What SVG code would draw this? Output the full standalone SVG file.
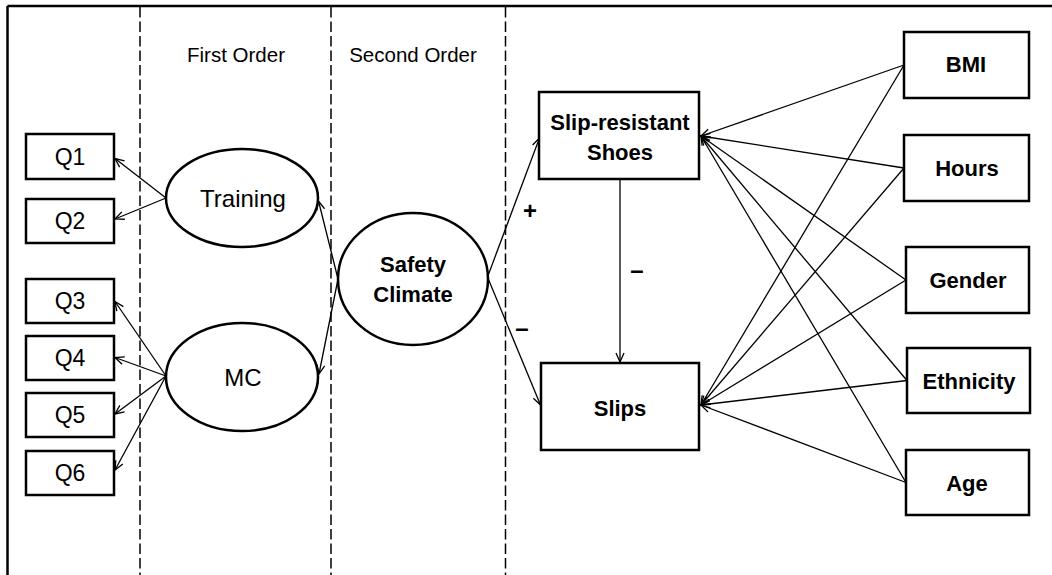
<svg xmlns="http://www.w3.org/2000/svg" width="1052" height="575" viewBox="0 0 1052 575">
<style>
  text { font-family: "Liberation Sans", Arial, sans-serif; fill: #000; text-anchor: middle; }
  .q { font-size: 23px; }
  .lat { font-size: 24px; }
  .hdr { font-size: 20.5px; }
  .b { font-size: 22px; font-weight: bold; }
  .sign { font-size: 24px; font-weight: bold; }
  .box { fill: #fff; stroke: #000; stroke-width: 2.5; }
  .ell { fill: #fff; stroke: #000; stroke-width: 2.5; }
  .frame { stroke: #000; stroke-width: 2.5; fill: none; }
  .dash { stroke: #000; stroke-width: 1.5; stroke-dasharray: 10.5 4; fill: none; }
  .conn line { stroke: #000; stroke-width: 1.3; fill: none; marker-end: url(#arr); }
</style>
<defs>
  <marker id="arr" viewBox="-11 -6 13 12" refX="0" refY="0" markerWidth="13" markerHeight="12" markerUnits="userSpaceOnUse" orient="auto">
    <path d="M-9,-4 L0,0 L-9,4" fill="none" stroke="#000" stroke-width="1.3"/>
  </marker>
</defs>
<rect x="0" y="0" width="1052" height="575" fill="#fff"/>
<g id="frame">
  <line class="frame" x1="7.5" y1="6" x2="1052" y2="6"/>
  <line class="frame" x1="7.5" y1="6" x2="7.5" y2="575"/>
  <line class="dash" x1="140" y1="7" x2="140" y2="575"/>
  <line class="dash" x1="331" y1="7" x2="331" y2="575"/>
  <line class="dash" x1="505.5" y1="7" x2="505.5" y2="575"/>
  <text class="hdr" x="236" y="62">First Order</text>
  <text class="hdr" x="413" y="62">Second Order</text>
</g>
<g class="conn" id="connectors">
  <line x1="166" y1="198" x2="115" y2="158.5"/>
  <line x1="166" y1="198" x2="115" y2="219"/>
  <line x1="166" y1="376" x2="115" y2="301.5"/>
  <line x1="166" y1="376" x2="115" y2="357.5"/>
  <line x1="166" y1="376" x2="115" y2="414"/>
  <line x1="166" y1="376" x2="115" y2="470"/>
  <line x1="338" y1="279" x2="318.5" y2="201"/>
  <line x1="338" y1="279" x2="319" y2="374"/>
  <line x1="487.5" y1="277" x2="539.5" y2="138"/>
  <line x1="487.5" y1="277" x2="540.5" y2="405"/>
  <line x1="620" y1="180" x2="620" y2="362"/>
  <line x1="904" y1="65" x2="701" y2="136"/>
  <line x1="904" y1="65" x2="701" y2="405"/>
  <line x1="904" y1="168" x2="701" y2="136"/>
  <line x1="904" y1="168" x2="701" y2="405"/>
  <line x1="906" y1="280" x2="701" y2="136"/>
  <line x1="906" y1="280" x2="701" y2="405"/>
  <line x1="907" y1="380.5" x2="701" y2="136"/>
  <line x1="907" y1="380.5" x2="701" y2="405"/>
  <line x1="906" y1="482.5" x2="701" y2="136"/>
  <line x1="906" y1="482.5" x2="701" y2="405"/>
</g>
<g id="signs">
  <text class="sign" x="530" y="219">+</text>
  <text class="sign" x="637" y="278">–</text>
  <text class="sign" x="522" y="336">–</text>
</g>
<g id="Q1"><rect class="box" x="26" y="134" width="88" height="45"/><text class="q" x="70" y="165">Q1</text></g>
<g id="Q2"><rect class="box" x="26" y="199" width="88" height="44"/><text class="q" x="70" y="229">Q2</text></g>
<g id="Q3"><rect class="box" x="26" y="279" width="88" height="44"/><text class="q" x="70" y="309">Q3</text></g>
<g id="Q4"><rect class="box" x="26" y="336" width="88" height="44"/><text class="q" x="70" y="366">Q4</text></g>
<g id="Q5"><rect class="box" x="26" y="393" width="88" height="44"/><text class="q" x="70" y="423">Q5</text></g>
<g id="Q6"><rect class="box" x="26" y="451" width="88" height="44"/><text class="q" x="70" y="481">Q6</text></g>
<g id="Training"><ellipse class="ell" cx="242" cy="198" rx="76" ry="49"/><text class="lat" x="243" y="207">Training</text></g>
<g id="MC"><ellipse class="ell" cx="242" cy="377" rx="76" ry="54"/><text class="lat" x="243" y="386">MC</text></g>
<g id="SafetyClimate"><ellipse class="ell" cx="413" cy="279" rx="75" ry="66"/><text class="b" x="413" y="272">Safety</text><text class="b" x="413" y="302">Climate</text></g>
<g id="SlipResistantShoes"><rect class="box" x="539" y="92" width="160" height="87"/><text class="b" x="620" y="130">Slip-resistant</text><text class="b" x="620" y="160">Shoes</text></g>
<g id="Slips"><rect class="box" x="541" y="363" width="158" height="87"/><text class="b" x="620" y="416">Slips</text></g>
<g id="BMI"><rect class="box" x="904" y="32" width="125" height="66"/><text class="b" x="966" y="72">BMI</text></g>
<g id="Hours"><rect class="box" x="904" y="135" width="125" height="66"/><text class="b" x="967" y="176">Hours</text></g>
<g id="Gender"><rect class="box" x="906" y="247" width="123" height="66"/><text class="b" x="968" y="288">Gender</text></g>
<g id="Ethnicity"><rect class="box" x="907" y="348" width="123" height="65"/><text class="b" x="969" y="389">Ethnicity</text></g>
<g id="Age"><rect class="box" x="906" y="450" width="123" height="65"/><text class="b" x="967" y="491">Age</text></g>
</svg>
